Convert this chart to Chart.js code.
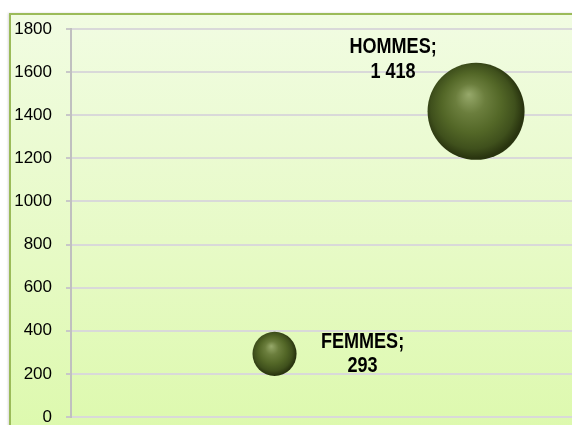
<!DOCTYPE html>
<html lang="fr">

<head>
    <meta charset="UTF-8">
    <title>Hommes / Femmes</title>
    <style>
        body {
            margin: 0;
            background: #ffffff;
            overflow: hidden;
        }

        /* cadre vert du graphique */
        #frame {
            position: absolute;
            left: 9px;
            top: 13px;
            width: 600px;
            height: 450px;
            border-top: 2px solid #9bbb59;
            border-left: 2px solid #9bbb59;
            background: linear-gradient(to bottom, #f1fce2 0%, #e6fac4 55%, #dbf9a9 100%);
            box-shadow: -1px 0 2px rgba(0, 0, 0, 0.15);
        }

        #myChart {
            position: absolute;
            left: 0;
            top: 0;
        }
    </style>
</head>

<body>
    <div id="frame"></div>
    <canvas id="myChart" width="572" height="425"></canvas>
    <script src="https://cdn.jsdelivr.net/npm/chart.js"></script>
    <script>
        // données
        const categories = ['HOMMES', 'FEMMES'];
        const xValues = [2, 1];
        const values = [1418, 293];
        const bubbleSizes = [1418, 293];
        const yMin = 0;
        const yMax = 1800;
        const yStep = 200;

        const sans = "'Liberation Sans', Arial, sans-serif";

        // 1418 -> "1 418"
        function fmt(v) {
            return String(v).replace(/\B(?=(\d{3})+(?!\d))/g, ' ');
        }

        // rayon proportionnel à la racine de la taille (surface)
        const maxSize = Math.max.apply(null, bubbleSizes);
        const points = categories.map(function (c, i) {
            return { x: xValues[i], y: values[i], r: 48.5 * Math.sqrt(bubbleSizes[i] / maxSize) };
        });

        // boule 3D
        function sphere(ctx) {
            const chart = ctx.chart;
            if (!chart.chartArea || !ctx.raw) return '#4e6126';
            const cx = chart.scales.x.getPixelForValue(ctx.raw.x);
            const cy = chart.scales.y.getPixelForValue(ctx.raw.y);
            const r = ctx.raw.r;
            const g = chart.ctx.createRadialGradient(cx - 0.15 * r, cy - 0.35 * r, 0, cx - 0.05 * r, cy - 0.05 * r, r * 1.02);
            g.addColorStop(0, '#97a96b');
            g.addColorStop(0.3, '#6b7e3d');
            g.addColorStop(0.6, '#536727');
            g.addColorStop(0.85, '#3f501c');
            g.addColorStop(1, '#29340f');
            return g;
        }

        // étiquettes "HOMMES; 1 418" (police étroite : Liberation Sans compressée)
        const labelOffsets = [
            { dx: -83, dy1: -58, dy2: -33 },
            { dx: 88, dy1: -6, dy2: 18 }
        ];
        const labelPlugin = {
            id: 'bubbleLabels',
            afterDatasetsDraw(chart) {
                const c = chart.ctx;
                const meta = chart.getDatasetMeta(0);
                meta.data.forEach(function (el, i) {
                    const o = labelOffsets[i];
                    c.save();
                    c.fillStyle = '#000000';
                    c.textAlign = 'center';
                    c.textBaseline = 'alphabetic';
                    c.font = 'bold 22px ' + sans;
                    c.translate(el.x + o.dx, el.y);
                    c.scale(0.82, 1);
                    c.fillText(categories[i] + ';', 0, o.dy1);
                    c.fillText(fmt(values[i]), 0, o.dy2);
                    c.restore();
                });
            }
        };

        const ctx = document.getElementById('myChart');
        const mychart = new Chart(ctx, {
            type: 'bubble',
            data: {
                datasets: [{
                    label: 'Effectif',
                    data: points,
                    backgroundColor: sphere,
                    hoverBackgroundColor: sphere,
                    borderWidth: 0,
                    hoverBorderWidth: 0
                }]
            },
            options: {
                responsive: false,
                animation: false,
                clip: false,
                layout: {
                    autoPadding: false,
                    padding: { top: 29, bottom: 8, left: 0, right: 0 }
                },
                plugins: {
                    legend: { display: false },
                    tooltip: { enabled: false }
                },
                scales: {
                    x: {
                        type: 'linear',
                        display: false,
                        min: -0.01,
                        max: 2.476,
                        afterFit: function (s) { s.height = 0; }
                    },
                    y: {
                        min: yMin,
                        max: yMax,
                        afterFit: function (s) {
                            s.width = 71;
                            s.paddingTop = 0;
                            s.paddingBottom = 0;
                        },
                        ticks: {
                            stepSize: yStep,
                            padding: 14,
                            color: '#000000',
                            font: { family: sans, size: 17 },
                            callback: function (v) { return String(v); }
                        },
                        grid: {
                            color: '#d9d9d9',
                            lineWidth: 2,
                            tickLength: 5,
                            tickColor: '#c8c8c8'
                        },
                        border: {
                            color: '#c0c0c0',
                            width: 2
                        }
                    }
                }
            },
            plugins: [labelPlugin]
        });
    </script>
</body>

</html>
